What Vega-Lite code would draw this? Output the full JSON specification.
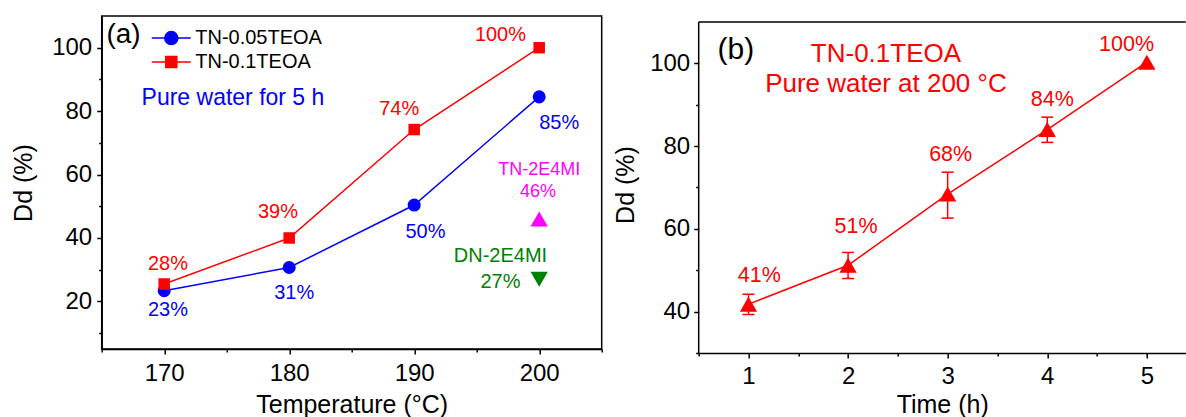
{
  "$schema": "https://vega.github.io/schema/vega-lite/v6.json",
  "padding": {"left": 10.7, "top": 15, "right": 0, "bottom": 0},
  "background": "white",
  "config": {
    "font": "Liberation Sans",
    "view": {"stroke": null},
    "axis": {
      "grid": false, "domainColor": "black", "domainWidth": 1.5,
      "tickColor": "black", "tickWidth": 1.5, "tickSize": 5,
      "labelFontSize": 24, "labelColor": "black", "labelFont": "Liberation Sans",
      "titleFontSize": 25, "titleColor": "black", "titleFontWeight": "normal", "titleFont": "Liberation Sans",
      "labelOverlap": false, "labelFlush": false
    }
  },
  "resolve": {"scale": {"color": "independent"}},
  "spacing": 97,
  "bounds": "flush",
  "datasets": {
    "a_series": [
      {"series": "TN-0.05TEOA", "temp": 170, "dd": 23.4},
      {"series": "TN-0.05TEOA", "temp": 180, "dd": 30.7},
      {"series": "TN-0.05TEOA", "temp": 190, "dd": 50.4},
      {"series": "TN-0.05TEOA", "temp": 200, "dd": 84.5},
      {"series": "TN-0.1TEOA", "temp": 170, "dd": 25.5},
      {"series": "TN-0.1TEOA", "temp": 180, "dd": 40.0},
      {"series": "TN-0.1TEOA", "temp": 190, "dd": 74.2},
      {"series": "TN-0.1TEOA", "temp": 200, "dd": 100}
    ],
    "a_labels": [
      {"series": "TN-0.1TEOA", "temp": 196.9, "dd": 103.9, "text": "100%"},
      {"series": "TN-0.1TEOA", "temp": 188.8, "dd": 80.8, "text": "74%"},
      {"series": "TN-0.1TEOA", "temp": 179.1, "dd": 48.1, "text": "39%"},
      {"series": "TN-0.1TEOA", "temp": 170.3, "dd": 31.8, "text": "28%"},
      {"series": "TN-0.05TEOA", "temp": 170.3, "dd": 17.3, "text": "23%"},
      {"series": "TN-0.05TEOA", "temp": 180.4, "dd": 22.8, "text": "31%"},
      {"series": "TN-0.05TEOA", "temp": 190.9, "dd": 41.8, "text": "50%"},
      {"series": "TN-0.05TEOA", "temp": 201.6, "dd": 76.2, "text": "85%"}
    ],
    "b_series": [
      {"time": 1, "dd": 41.8, "lo": 39.3, "hi": 44.2},
      {"time": 2, "dd": 51.2, "lo": 48.0, "hi": 54.3},
      {"time": 3, "dd": 68.4, "lo": 62.6, "hi": 73.7},
      {"time": 4, "dd": 84.0, "lo": 80.9, "hi": 87.0},
      {"time": 5, "dd": 100.3, "lo": null, "hi": null}
    ],
    "b_labels": [
      {"time": 1.108, "dd": 48.5, "text": "41%"},
      {"time": 2.08, "dd": 60.5, "text": "51%"},
      {"time": 3.03, "dd": 77.8, "text": "68%"},
      {"time": 4.05, "dd": 91.2, "text": "84%"},
      {"time": 4.796, "dd": 104.4, "text": "100%"}
    ]
  },
  "hconcat": [
    {
      "width": 500,
      "height": 333,
      "view": {"stroke": "black", "strokeWidth": 1.5},
      "resolve": {"axis": {"x": "independent", "y": "independent"}},
      "layer": [
        {
          "data": {"name": "a_series"},
          "mark": {"type": "line", "strokeWidth": 1.5},
          "encoding": {
            "x": {
              "field": "temp", "type": "quantitative", "title": "Temperature (°C)",
              "scale": {"domain": [165, 205], "nice": false, "zero": false},
              "axis": {"values": [170, 180, 190, 200], "format": "d", "labelPadding": 7.3, "titlePadding": 7.2}
            },
            "y": {
              "field": "dd", "type": "quantitative", "title": "Dd (%)",
              "scale": {"domain": [5, 110], "nice": false, "zero": false},
              "axis": {"values": [20, 40, 60, 80, 100], "format": "d", "labelPadding": 5, "titlePadding": 15}
            },
            "color": {
              "field": "series", "type": "nominal",
              "scale": {"domain": ["TN-0.05TEOA", "TN-0.1TEOA"], "range": ["#0000ff", "#ff0000"]},
              "legend": {
                "orient": "none", "legendX": 59.6, "legendY": 12, "title": null, "padding": 0,
                "labelFontSize": 20, "labelColor": "black", "labelFont": "Liberation Sans",
                "labelOffset": 14, "symbolSize": 169, "rowPadding": 4, "symbolStrokeWidth": 1.5,
                "encode": {"symbols": {"update": {
                  "shape": {"signal": "datum.value === 'TN-0.05TEOA' ? 'M-3,0H3M1,0A1,1 0 1,1 -1,0A1,1 0 1,1 1,0Z' : 'M-3,0H3M-0.85,-0.85H0.85V0.85H-0.85Z'"},
                  "fill": {"signal": "datum.value === 'TN-0.05TEOA' ? '#0000ff' : '#ff0000'"},
                  "stroke": {"signal": "datum.value === 'TN-0.05TEOA' ? '#0000ff' : '#ff0000'"},
                  "opacity": {"value": 1},
                  "fillOpacity": {"value": 1},
                  "strokeOpacity": {"value": 1},
                  "strokeWidth": {"value": 1.5}
                }}}
              }
            }
          }
        },
        {
          "data": {"name": "a_series"},
          "transform": [{"filter": "datum.series === 'TN-0.05TEOA'"}],
          "mark": {"type": "point", "shape": "circle", "filled": true, "opacity": 1, "size": 170, "color": "#0000ff"},
          "encoding": {
            "x": {"field": "temp", "type": "quantitative", "axis": {"values": [165, 175, 185, 195, 205], "labels": false, "tickSize": 3, "domain": false, "title": null, "orient": "bottom"}},
            "y": {"field": "dd", "type": "quantitative", "axis": {"values": [10, 30, 50, 70, 90], "labels": false, "tickSize": 3, "domain": false, "title": null, "orient": "left"}}
          }
        },
        {
          "data": {"name": "a_series"},
          "transform": [{"filter": "datum.series === 'TN-0.1TEOA'"}],
          "mark": {"type": "point", "shape": "square", "filled": true, "opacity": 1, "size": 132, "color": "#ff0000"},
          "encoding": {
            "x": {"field": "temp", "type": "quantitative", "axis": null},
            "y": {"field": "dd", "type": "quantitative", "axis": null}
          }
        },
        {
          "data": {"name": "a_labels"},
          "transform": [{"filter": "datum.series === 'TN-0.1TEOA'"}],
          "mark": {"type": "text", "align": "center", "baseline": "middle", "fontSize": 20, "color": "#ff0000"},
          "encoding": {
            "x": {"field": "temp", "type": "quantitative", "axis": null},
            "y": {"field": "dd", "type": "quantitative", "axis": null},
            "text": {"field": "text"}
          }
        },
        {
          "data": {"name": "a_labels"},
          "transform": [{"filter": "datum.series === 'TN-0.05TEOA'"}],
          "mark": {"type": "text", "align": "center", "baseline": "middle", "fontSize": 20, "color": "#0000ff"},
          "encoding": {
            "x": {"field": "temp", "type": "quantitative", "axis": null},
            "y": {"field": "dd", "type": "quantitative", "axis": null},
            "text": {"field": "text"}
          }
        },
        {
          "data": {"values": [{"sample": "TN-2E4MI", "temp": 200, "dd": 46}]},
          "mark": {"type": "point", "shape": "triangle-up", "filled": true, "opacity": 1, "size": 300, "color": "#ff00ff"},
          "encoding": {
            "x": {"field": "temp", "type": "quantitative", "axis": null},
            "y": {"field": "dd", "type": "quantitative", "axis": null}
          }
        },
        {
          "data": {"values": [{"sample": "DN-2E4MI", "temp": 200, "dd": 27}]},
          "mark": {"type": "point", "shape": "triangle-down", "filled": true, "opacity": 1, "size": 300, "color": "#008000"},
          "encoding": {
            "x": {"field": "temp", "type": "quantitative", "axis": null},
            "y": {"field": "dd", "type": "quantitative", "axis": null}
          }
        },
        {
          "data": {"values": [
            {"temp": 200.0, "dd": 61.3, "text": "TN-2E4MI"},
            {"temp": 199.9, "dd": 54.4, "text": "46%"}
          ]},
          "mark": {"type": "text", "align": "center", "baseline": "middle", "fontSize": 18, "color": "#ff00ff"},
          "encoding": {
            "x": {"field": "temp", "type": "quantitative", "axis": null},
            "y": {"field": "dd", "type": "quantitative", "axis": null},
            "text": {"field": "text"}
          }
        },
        {
          "data": {"values": [
            {"temp": 196.9, "dd": 34.4, "text": "DN-2E4MI"},
            {"temp": 196.9, "dd": 26.0, "text": "27%"}
          ]},
          "mark": {"type": "text", "align": "center", "baseline": "middle", "fontSize": 20, "color": "#008000"},
          "encoding": {
            "x": {"field": "temp", "type": "quantitative", "axis": null},
            "y": {"field": "dd", "type": "quantitative", "axis": null},
            "text": {"field": "text"}
          }
        },
        {
          "data": {"values": [{"temp": 166.75, "dd": 103.9, "text": "(a)"}]},
          "mark": {"type": "text", "align": "center", "baseline": "middle", "fontSize": 28, "color": "black"},
          "encoding": {
            "x": {"field": "temp", "type": "quantitative", "axis": null},
            "y": {"field": "dd", "type": "quantitative", "axis": null},
            "text": {"field": "text"}
          }
        },
        {
          "data": {"values": [{"temp": 175.5, "dd": 84.0, "text": "Pure water for 5 h"}]},
          "mark": {"type": "text", "align": "center", "baseline": "middle", "fontSize": 23, "color": "#0000ff"},
          "encoding": {
            "x": {"field": "temp", "type": "quantitative", "axis": null},
            "y": {"field": "dd", "type": "quantitative", "axis": null},
            "text": {"field": "text"}
          }
        }
      ]
    },
    {
      "width": 487,
      "height": 337,
      "resolve": {"axis": {"x": "independent", "y": "independent"}},
      "layer": [
        {
          "data": {"name": "b_series"},
          "mark": {"type": "line", "strokeWidth": 1.5, "color": "#ff0000"},
          "encoding": {
            "x": {
              "field": "time", "type": "quantitative", "title": "Time (h)",
              "scale": {"domain": [0.5, 5.39], "nice": false, "zero": false},
              "axis": {"values": [1, 2, 3, 4, 5], "format": "d", "labelPadding": 6.9, "titlePadding": 3.6}
            },
            "y": {
              "field": "dd", "type": "quantitative", "title": "Dd (%)",
              "scale": {"domain": [30, 111.45], "nice": false, "zero": false},
              "axis": {"values": [40, 60, 80, 100], "format": "d", "domain": false, "labelPadding": 4, "titlePadding": 11}
            }
          }
        },
        {
          "data": {"name": "b_series"},
          "mark": {"type": "point", "shape": "triangle-up", "filled": true, "opacity": 1, "size": 300, "color": "#ff0000"},
          "encoding": {
            "x": {"field": "time", "type": "quantitative", "axis": {"values": [0.5, 1.5, 2.5, 3.5, 4.5], "labels": false, "tickSize": 3, "domain": false, "title": null, "orient": "bottom"}},
            "y": {"field": "dd", "type": "quantitative", "axis": {"values": [30, 50, 70, 90], "labels": false, "tickSize": 3, "domain": false, "title": null, "orient": "left"}}
          }
        },
        {
          "data": {"values": [{"edge": "left"}]},
          "mark": {"type": "rule", "color": "black", "strokeWidth": 1.5},
          "encoding": {
            "x": {"datum": 0.5, "type": "quantitative", "axis": null},
            "y": {"datum": 30, "type": "quantitative", "axis": null},
            "y2": {"datum": 110}
          }
        },
        {
          "data": {"values": [{"edge": "top"}]},
          "mark": {"type": "rule", "color": "black", "strokeWidth": 1.5},
          "encoding": {"y": {"datum": 110, "type": "quantitative", "axis": null}}
        },
        {
          "data": {"name": "b_series"},
          "transform": [{"filter": "isValid(datum.lo)"}],
          "mark": {"type": "rule", "color": "#ff0000", "strokeWidth": 1.5},
          "encoding": {
            "x": {"field": "time", "type": "quantitative", "axis": null},
            "y": {"field": "lo", "type": "quantitative", "axis": null},
            "y2": {"field": "hi"}
          }
        },
        {
          "data": {"name": "b_series"},
          "transform": [{"filter": "isValid(datum.lo)"}],
          "mark": {"type": "tick", "orient": "horizontal", "size": 12, "thickness": 1.5, "color": "#ff0000", "opacity": 1},
          "encoding": {
            "x": {"field": "time", "type": "quantitative", "axis": null},
            "y": {"field": "lo", "type": "quantitative", "axis": null}
          }
        },
        {
          "data": {"name": "b_series"},
          "transform": [{"filter": "isValid(datum.hi)"}],
          "mark": {"type": "tick", "orient": "horizontal", "size": 12, "thickness": 1.5, "color": "#ff0000", "opacity": 1},
          "encoding": {
            "x": {"field": "time", "type": "quantitative", "axis": null},
            "y": {"field": "hi", "type": "quantitative", "axis": null}
          }
        },
        {
          "data": {"name": "b_labels"},
          "mark": {"type": "text", "align": "center", "baseline": "middle", "fontSize": 21.5, "color": "#ff0000"},
          "encoding": {
            "x": {"field": "time", "type": "quantitative", "axis": null},
            "y": {"field": "dd", "type": "quantitative", "axis": null},
            "text": {"field": "text"}
          }
        },
        {
          "data": {"values": [{"time": 0.874, "dd": 103.2, "text": "(b)"}]},
          "mark": {"type": "text", "align": "center", "baseline": "middle", "fontSize": 30, "color": "black"},
          "encoding": {
            "x": {"field": "time", "type": "quantitative", "axis": null},
            "y": {"field": "dd", "type": "quantitative", "axis": null},
            "text": {"field": "text"}
          }
        },
        {
          "data": {"values": [
            {"time": 2.38, "dd": 102.2, "text": "TN-0.1TEOA"},
            {"time": 2.38, "dd": 94.9, "text": "Pure water at 200 °C"}
          ]},
          "mark": {"type": "text", "align": "center", "baseline": "middle", "fontSize": 26, "color": "#ff0000"},
          "encoding": {
            "x": {"field": "time", "type": "quantitative", "axis": null},
            "y": {"field": "dd", "type": "quantitative", "axis": null},
            "text": {"field": "text"}
          }
        }
      ]
    }
  ]
}
